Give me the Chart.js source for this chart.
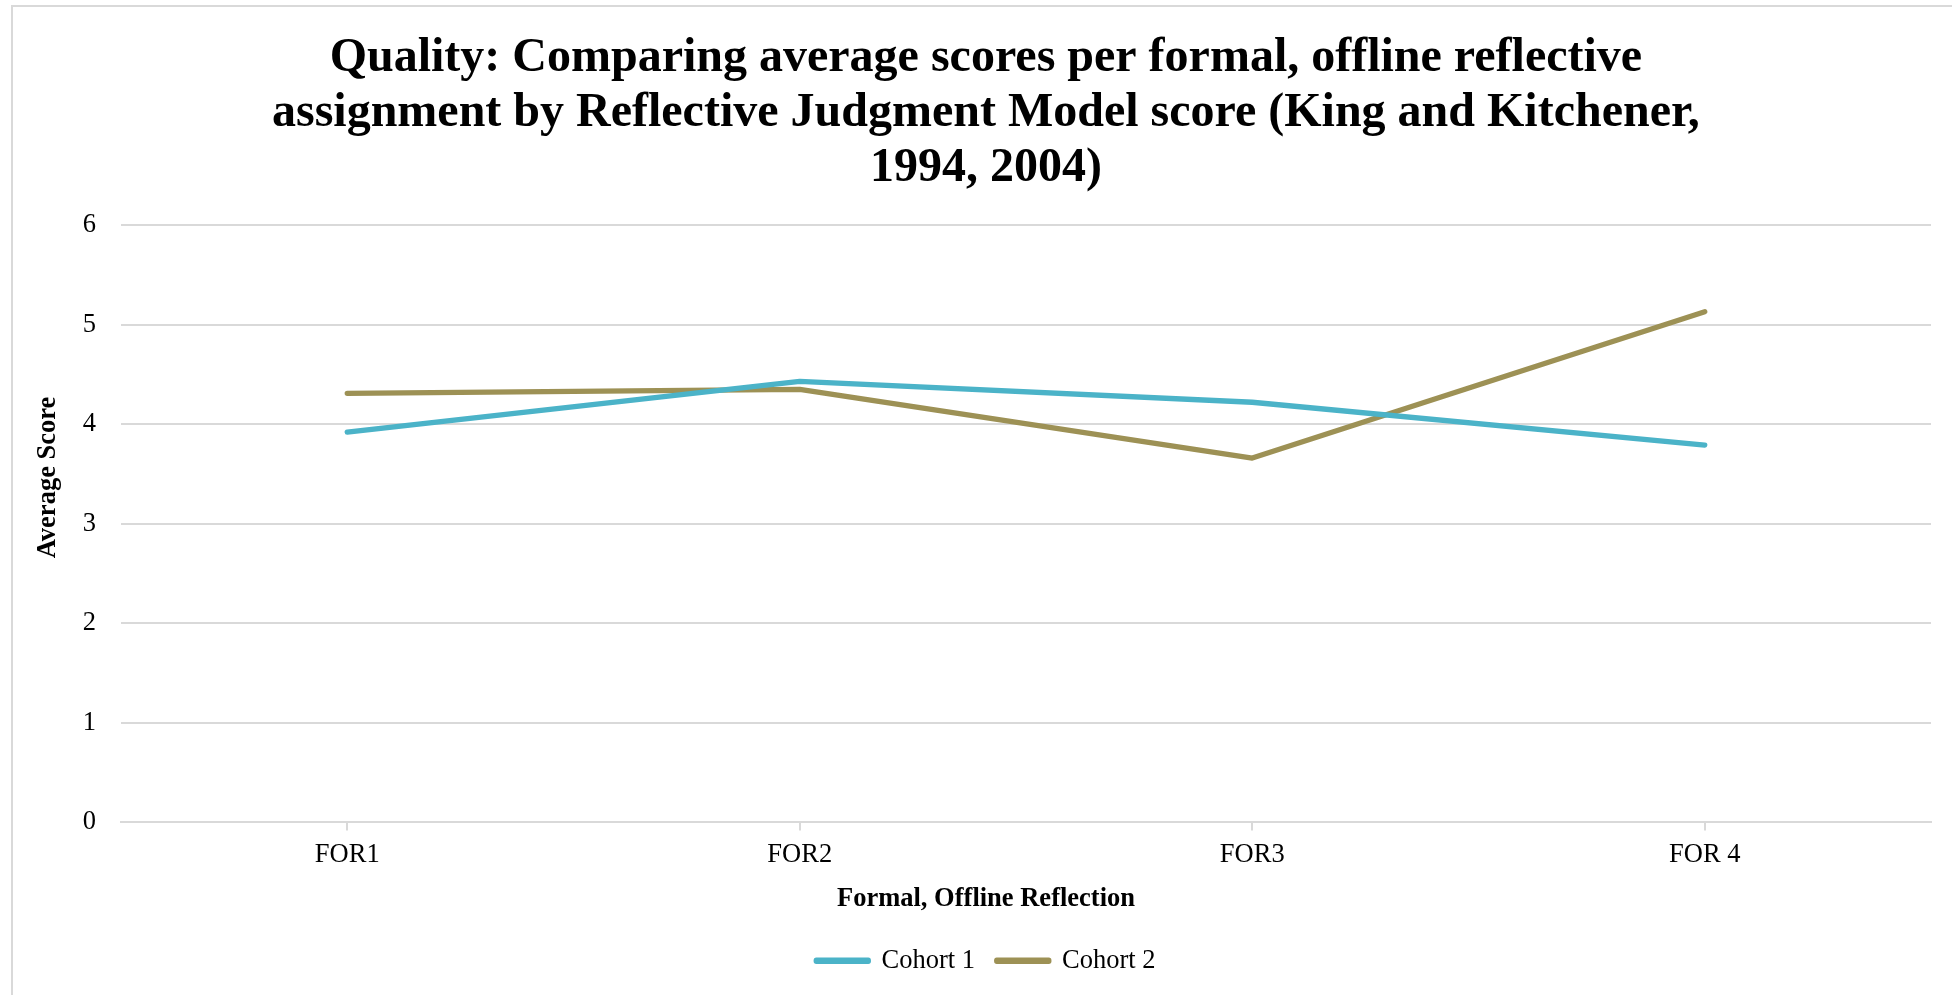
<!DOCTYPE html>
<html>
<head>
<meta charset="utf-8">
<script src="https://cdn.jsdelivr.net/npm/chart.js@4/dist/chart.umd.min.js"></script>
<style>
  html, body { margin: 0; padding: 0; background: #ffffff; }
  #wrap { position: relative; width: 1952px; height: 995px; }
</style>
</head>
<body>
<div id="wrap"><canvas id="chart" width="1952" height="995"></canvas></div>
<script>
// Assignments along the x axis
const categories = ['FOR1', 'FOR2', 'FOR3', 'FOR 4'];
// Average scores per cohort
const cohort1 = [3.92, 4.43, 4.22, 3.79];
const cohort2 = [4.31, 4.35, 3.66, 5.13];
// Value axis ticks
const yTicks = [0, 1, 2, 3, 4, 5, 6];

const titleLines = [
  'Quality: Comparing average scores per formal, offline reflective',
  'assignment by Reflective Judgment Model score (King and Kitchener,',
  '1994, 2004)'
];
const xAxisTitle = 'Formal, Offline Reflection';
const yAxisTitle = 'Average Score';

const SERIF = '"Liberation Serif", "Times New Roman", Times, serif';
const GRID = '#d9d9d9';
const PAD_LEFT = 40.8;
const PLOT_LEFT = 121;

// Light frame along the top and left edges
const framePlugin = {
  id: 'frame',
  beforeDraw(chart) {
    const ctx = chart.ctx;
    ctx.save();
    ctx.fillStyle = '#ffffff';
    ctx.fillRect(0, 0, chart.width, chart.height);
    ctx.strokeStyle = GRID;
    ctx.lineWidth = 2;
    ctx.beginPath();
    ctx.moveTo(11, 6);
    ctx.lineTo(chart.width, 6);
    ctx.moveTo(12, 5);
    ctx.lineTo(12, chart.height);
    ctx.stroke();
    ctx.restore();
  }
};

// Axis titles, centred on the whole chart rather than on the plot area
const axisTitlePlugin = {
  id: 'axisTitles',
  afterDraw(chart) {
    const ctx = chart.ctx;
    ctx.save();
    ctx.fillStyle = '#000000';
    ctx.font = 'bold 26.5px ' + SERIF;
    ctx.textAlign = 'center';
    ctx.textBaseline = 'middle';
    ctx.fillText(xAxisTitle, 986, 899);
    ctx.translate(48.5, 477.5);
    ctx.rotate(-Math.PI / 2);
    ctx.fillText(yAxisTitle, 0, 0);
    ctx.restore();
  }
};

const lineStyle = {
  borderWidth: 5.3,
  borderCapStyle: 'round',
  borderJoinStyle: 'round',
  pointRadius: 0,
  tension: 0
};

new Chart(document.getElementById('chart'), {
  type: 'line',
  data: {
    labels: categories,
    datasets: [
      Object.assign({ label: 'Cohort 1', data: cohort1, borderColor: '#4bb3c8', backgroundColor: '#4bb3c8' }, lineStyle),
      Object.assign({ label: 'Cohort 2', data: cohort2, borderColor: '#9d9155', backgroundColor: '#9d9155' }, lineStyle)
    ]
  },
  options: {
    responsive: false,
    animation: false,
    events: [],
    layout: { padding: { top: 31, left: PAD_LEFT, right: 21, bottom: 11 } },
    plugins: {
      title: {
        display: true,
        text: titleLines,
        color: '#000000',
        font: { family: SERIF, size: 48, weight: 'bold', lineHeight: 1.146 },
        padding: { top: 0, bottom: 29 }
      },
      legend: {
        position: 'bottom',
        labels: {
          color: '#000000',
          font: { family: SERIF, size: 26.5 },
          boxWidth: 52,
          boxHeight: 1,
          padding: 21.75
        }
      },
      tooltip: { enabled: false }
    },
    scales: {
      x: {
        offset: true,
        grid: {
          display: true,
          drawOnChartArea: false,
          drawTicks: true,
          tickLength: 8,
          color: GRID,
          lineWidth: 2
        },
        border: { display: true, color: GRID, width: 2 },
        ticks: {
          color: '#000000',
          font: { family: SERIF, size: 26.5 },
          padding: 8.5,
          maxRotation: 0
        },
        afterFit(scale) {
          scale.height = 924 - 820.7;
        }
      },
      y: {
        min: yTicks[0],
        max: yTicks[yTicks.length - 1],
        afterBuildTicks(scale) {
          scale.ticks = yTicks.map(v => ({ value: v }));
        },
        grid: {
          color: GRID,
          lineWidth: 2,
          drawTicks: false
        },
        border: { display: false },
        ticks: {
          color: '#000000',
          font: { family: SERIF, size: 26.5 },
          padding: 25
        },
        afterFit(scale) {
          scale.width = PLOT_LEFT - PAD_LEFT;
        }
      }
    }
  },
  plugins: [framePlugin, axisTitlePlugin]
});
</script>
</body>
</html>
